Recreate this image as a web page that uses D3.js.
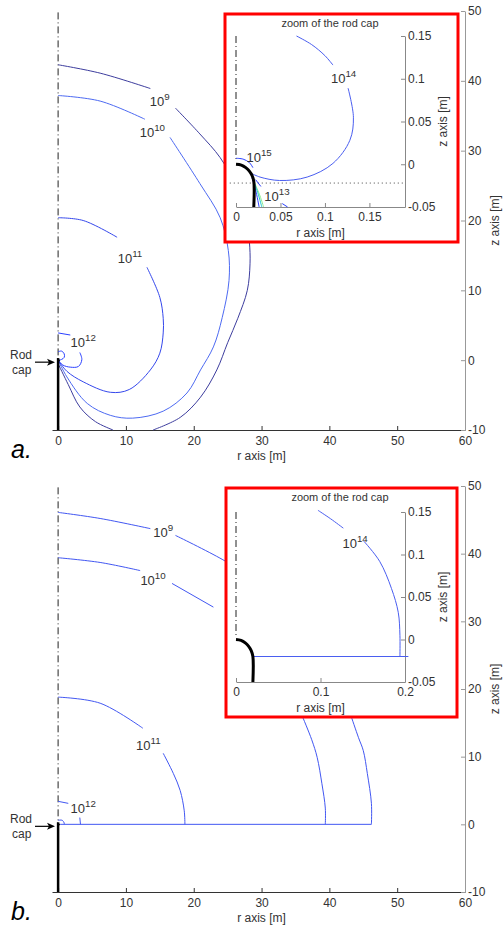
<!DOCTYPE html>
<html>
<head>
<meta charset="utf-8">
<script src="https://cdn.jsdelivr.net/npm/d3@7/dist/d3.min.js"></script>
<style>
body { margin: 0; background: #fff; }
svg text { font-family: "Liberation Sans", Arial, sans-serif; }
</style>
</head>
<body>
<svg id="chart" width="503" height="928"></svg>
<script>
// ticks
var rTicks = [0, 10, 20, 30, 40, 50, 60],
    zTicks = [-10, 0, 10, 20, 30, 40, 50],
    zoomRTicksA = [0, 0.05, 0.1, 0.15],
    zoomRTicksB = [0, 0.1, 0.2],
    zoomZTicks = [-0.05, 0, 0.05, 0.1, 0.15];

// panel a, iso-lines as [r, z] in metres (broken where the labels sit)
var a9 = [
    [[0, 42.3], [6.2, 41.1], [13.6, 38.9]],
    [[17.3, 36.1], [20.9, 32.4], [23.9, 29], [26.2, 25], [27.6, 21], [28.2, 17], [28.3, 13.8], [27.9, 10],
     [26.5, 6], [25, 2.5], [23.4, -1.4], [21, -5.3], [18, -8.2], [14, -10]],
    [[0, -0.5], [1.5, -3.5], [3.2, -6.7], [5.5, -8.8], [8.1, -10]]
];
var a10 = [
    [[0, 37.9], [6.2, 37.1], [12.8, 34.5]],
    [[16.5, 31.9], [20.9, 25.3], [23.9, 20.4], [25.1, 15.7], [25.2, 11.4], [24.2, 6.1], [22.9, 1.9], [21, -1.4],
     [19, -4.7], [15.5, -7.3], [11, -8.3], [7.7, -7.9], [4.3, -6.2], [1.3, -2.4], [0, 0]]
];
var a11 = [
    [[0, 20.4], [3.7, 20], [8.7, 17.6]],
    [[13.1, 13.3], [15, 9], [15.5, 6], [15.5, 3.9], [15, 1], [13.6, -1.4], [10.5, -4.2], [7.7, -4.6],
     [3.7, -3.1], [1.3, -1.6], [0, 0]]
];
var a12 = [
    [[0, 3.9], [1.8, 3.6]],
    [[3.2, 1.1], [3.5, 0.1], [3, -0.9], [1.8, -1], [0.7, -0.7], [0, 0]]
];
var a13 = [
    [[0, 1.2], [0.5, 1.3], [0.9, 0.9], [0.9, 0.4], [0.5, 0.1], [0, 0]]
];
var labelsA = [
    {exp: '9', r: 15, z: 37.1},
    {exp: '10', r: 13.9, z: 32.6},
    {exp: '11', r: 10.6, z: 14.6},
    {exp: '12', r: 3.7, z: 2.6}
];

// panel a, rod cap zoom
var za14 = [
    [[0.068, 0.15], [0.085, 0.14], [0.1, 0.127], [0.109, 0.116]],
    [[0.126, 0.089], [0.132, 0.055], [0.128, 0.028], [0.109, 0.001], [0.08, -0.015], [0.049, -0.019],
     [0.027, -0.015], [0.018, -0.011]]
];
var za15 = [
    [[0, 0.007], [0.008, 0.006], [0.015, 0.002], [0.019, -0.004]]
];
var za13 = [
    [[0.018, -0.016], [0.022, -0.03], [0.026, -0.05]],
    [[0.022, -0.018], [0.028, -0.026]],
    [[0.052, -0.046], [0.058, -0.05]]
];
var za13cyan = [
    [[0.02, -0.02], [0.025, -0.035], [0.029, -0.05]]
];
var za13green = [
    [[0.021, -0.022], [0.027, -0.037], [0.031, -0.05]]
];
var zoomLabelsA = [
    {exp: '14', r: 0.121, z: 0.1},
    {exp: '15', r: 0.026, z: 0.008},
    {exp: '13', r: 0.046, z: -0.038}
];
var capBaseA = [[-0.007, -0.022], [0.19, -0.022]];

// panel b, iso-lines
var b9 = [
    [[0, 46.1], [6.2, 45.2], [13.6, 43.7]],
    [[17.3, 42.7], [24.3, 39.1], [30, 35.5], [35, 30.5], [39, 25.5], [42, 20], [43.2, 16.2]],
    [[43.2, 16], [44.3, 12.8], [45, 10.9], [45.6, 7.5], [46.2, 3.1], [46.2, 0]]
];
var b10 = [
    [[0, 39.4], [6.2, 38.7], [12.1, 37.5]],
    [[16.8, 35.6], [22.9, 32.1]],
    [[36, 16], [37.4, 12.5], [38.2, 9.9], [38.9, 6], [39.4, 2.4], [39.4, 0]]
];
var b11 = [
    [[0, 18.8], [6.2, 17.9], [12.5, 14.2]],
    [[15.5, 10.5], [17, 7.5], [18, 5], [18.6, 2], [18.7, 0]]
];
var b12 = [
    [[0, 3.4], [1.5, 3.1]],
    [[3.2, 1], [3.3, 0]]
];
var b13 = [
    [[0, 0.6], [0.6, 0.6], [0.9, 0.2], [0.9, 0]]
];
var bBase = [
    [[0.3, 0], [46.2, 0]]
];
var labelsB = [
    {exp: '9', r: 15.5, z: 43.1},
    {exp: '10', r: 14, z: 36},
    {exp: '11', r: 13.3, z: 11.7},
    {exp: '12', r: 3.7, z: 2.4}
];

// panel b, rod cap zoom
var zb14 = [
    [[0.097, 0.152], [0.112, 0.142], [0.127, 0.131]],
    [[0.151, 0.116], [0.17, 0.092], [0.184, 0.06], [0.192, 0.032], [0.194, 0.005], [0.194, -0.02]],
    [[0.02, -0.02], [0.204, -0.02]]
];
var zoomLabelsB = [
    {exp: '14', r: 0.141, z: 0.113}
];

// shared geometry
var rodMain = [[0, 0.3], [0, -10]],
    symAxisMain = [[0, 49.8], [0, 0.5]],
    capZoom = [[0, 0], [0.006, -0.001], [0.011, -0.004], [0.015, -0.008], [0.018, -0.013], [0.02, -0.02], [0.02, -0.05]],
    symAxisZoom = [[0, 0.15], [0, 0.004]];

var colorA = {'9': '#3d3d9e', '10': '#4d6af2', '11': '#3447ec', '12': '#2a40ff', '13': '#2a40ff'},
    colorB = '#4257f2',
    zoomColor = {'14': '#4a5ef0', '15': '#2a40ff', '13': '#2a40ff', 'cyan': '#20c8d0', 'green': '#90ee90'};

var svg = d3.select('#chart');

function fmt(d) {
    return String(d);
}

function drawSegs(g, x, y, segs, color, width) {
    var line = d3.line()
        .x(function (d) { return x(d[0]); })
        .y(function (d) { return y(d[1]); })
        .curve(d3.curveCatmullRom.alpha(0.5));
    g.selectAll(null).data(segs).enter().append('path')
        .attr('d', line)
        .attr('fill', 'none')
        .attr('stroke', color)
        .attr('stroke-width', width || 1);
}

function expLabel(g, px, py, exp, size) {
    var t = g.append('text')
        .attr('x', px)
        .attr('y', py + size * 0.35)
        .attr('text-anchor', 'middle')
        .attr('font-size', size)
        .attr('fill', '#333');
    t.append('tspan').text('10');
    t.append('tspan').attr('dy', -size * 0.45).attr('font-size', size * 0.75).text(exp);
}

function styleAxis(ax, lineColor) {
    ax.select('.domain').attr('stroke', lineColor);
    ax.selectAll('.tick line').attr('stroke', lineColor);
    ax.selectAll('.tick text').attr('fill', '#333').attr('font-family', '"Liberation Sans", Arial, sans-serif');
}

function drawMain(p) {
    var g = svg.append('g'),
        x = p.x,
        y = p.y,
        ax,
        z0 = y(0);

    ax = g.append('g').attr('transform', 'translate(0,' + y.range()[0] + ')')
        .call(d3.axisBottom(x).tickValues(rTicks).tickFormat(fmt).tickSizeInner(-4).tickSizeOuter(0).tickPadding(6))
        .attr('font-size', 12);
    styleAxis(ax, '#333');

    ax = g.append('g').attr('transform', 'translate(' + x.range()[1] + ',0)')
        .call(d3.axisRight(y).tickValues(zTicks).tickFormat(fmt).tickSizeInner(-4).tickSizeOuter(0).tickPadding(3))
        .attr('font-size', 12);
    styleAxis(ax, '#999');

    g.append('text').attr('x', x(30)).attr('y', y.range()[0] + 30)
        .attr('text-anchor', 'middle').attr('font-size', 12).attr('fill', '#333').text('r axis [m]');
    g.append('text')
        .attr('transform', 'translate(499,' + ((y.range()[0] + y.range()[1]) / 2) + ') rotate(-90)')
        .attr('text-anchor', 'middle').attr('font-size', 12).attr('fill', '#333').text('z axis [m]');

    // symmetry axis and rod
    drawSegs(g, x, y, [symAxisMain], '#222', 1);
    g.select('path:last-child').attr('stroke-dasharray', '7,3,1,3');

    p.contours.forEach(function (c) {
        drawSegs(g, x, y, c.segs, c.color, 1);
    });

    drawSegs(g, x, y, [rodMain], '#000', 2.5);
    g.append('path')
        .attr('d', 'M' + (x(0) - 1) + ',' + (z0 - 2) + 'l3,2l-3,4z')
        .attr('fill', '#000');

    p.labels.forEach(function (l) {
        expLabel(g, x(l.r), y(l.z), l.exp, 13);
    });

    // rod cap marker
    g.append('text').attr('x', 10).attr('y', z0 - 1).attr('font-size', 12).attr('fill', '#333').text('Rod');
    g.append('text').attr('x', 12).attr('y', z0 + 14).attr('font-size', 12).attr('fill', '#333').text('cap');
    g.append('line').attr('x1', 35).attr('x2', 50).attr('y1', z0 + 2).attr('y2', z0 + 2)
        .attr('stroke', '#000').attr('stroke-width', 1.2);
    g.append('path').attr('d', 'M55,' + (z0 + 2) + 'l-8,-3.5l2,3.5l-2,3.5z').attr('fill', '#000');

    g.append('text').attr('x', 11).attr('y', p.letterY)
        .attr('font-family', '"Liberation Serif", "Times New Roman", serif')
        .attr('font-style', 'italic').attr('font-size', 25).attr('fill', '#000').text(p.letter);
}

function drawZoom(p) {
    var g = svg.append('g'),
        x = p.zx,
        y = p.zy,
        ax,
        box = p.box;

    g.append('rect').attr('x', box[0]).attr('y', box[1]).attr('width', box[2]).attr('height', box[3])
        .attr('fill', '#fff').attr('stroke', '#ff0000').attr('stroke-width', 3);

    g.append('text').attr('x', p.titleX).attr('y', box[1] + 13)
        .attr('text-anchor', 'middle').attr('font-size', 11).attr('fill', '#333').text('zoom of the rod cap');

    ax = g.append('g').attr('transform', 'translate(0,' + y.range()[0] + ')')
        .call(d3.axisBottom(x).tickValues(p.rTicks).tickFormat(fmt).tickSizeInner(-4).tickSizeOuter(0).tickPadding(5))
        .attr('font-size', 12);
    styleAxis(ax, '#888');

    ax = g.append('g').attr('transform', 'translate(' + x.range()[1] + ',0)')
        .call(d3.axisRight(y).tickValues(zoomZTicks).tickFormat(fmt).tickSizeInner(-4).tickSizeOuter(0).tickPadding(3))
        .attr('font-size', 12);
    styleAxis(ax, '#888');

    g.append('text').attr('x', (x.range()[0] + x.range()[1]) / 2).attr('y', y.range()[0] + 30)
        .attr('text-anchor', 'middle').attr('font-size', 12).attr('fill', '#333').text('r axis [m]');
    g.append('text')
        .attr('transform', 'translate(447,' + ((y.range()[0] + y.range()[1]) / 2) + ') rotate(-90)')
        .attr('text-anchor', 'middle').attr('font-size', 12).attr('fill', '#333').text('z axis [m]');

    drawSegs(g, x, y, [symAxisZoom], '#222', 1);
    g.select('path:last-child').attr('stroke-dasharray', '7,3,1,3');

    if (p.dotted) {
        drawSegs(g, x, y, [p.dotted], '#444', 1);
        g.select('path:last-child').attr('stroke-dasharray', '1,3');
    }

    p.contours.forEach(function (c) {
        drawSegs(g, x, y, c.segs, c.color, 1);
    });

    drawSegs(g, x, y, [capZoom], '#000', 3);

    p.labels.forEach(function (l) {
        expLabel(g, x(l.r), y(l.z), l.exp, 13);
    });
}

var panelA = {
    letter: 'a.',
    letterY: 458,
    x: d3.scaleLinear().domain([-0.9, 60]).range([52, 465]),
    y: d3.scaleLinear().domain([-10, 50]).range([430, 11]),
    contours: [
        {segs: a9, color: colorA['9']},
        {segs: a10, color: colorA['10']},
        {segs: a11, color: colorA['11']},
        {segs: a12, color: colorA['12']},
        {segs: a13, color: colorA['13']}
    ],
    labels: labelsA
};
var zoomA = {
    box: [225, 14, 233, 228],
    titleX: 330,
    zx: d3.scaleLinear().domain([0, 0.19]).range([236, 405]),
    zy: d3.scaleLinear().domain([-0.05, 0.15]).range([207, 36]),
    rTicks: zoomRTicksA,
    dotted: capBaseA,
    contours: [
        {segs: za13green, color: zoomColor.green},
        {segs: za13cyan, color: zoomColor.cyan},
        {segs: za13, color: zoomColor['13']},
        {segs: za14, color: zoomColor['14']},
        {segs: za15, color: zoomColor['15']}
    ],
    labels: zoomLabelsA
};
var panelB = {
    letter: 'b.',
    letterY: 920,
    x: d3.scaleLinear().domain([-0.9, 60]).range([52, 465]),
    y: d3.scaleLinear().domain([-10, 50]).range([892, 486]),
    contours: [
        {segs: b9, color: colorB},
        {segs: b10, color: colorB},
        {segs: b11, color: colorB},
        {segs: b12, color: colorB},
        {segs: b13, color: colorB},
        {segs: bBase, color: colorB}
    ],
    labels: labelsB
};
var zoomB = {
    box: [226, 488, 231, 229],
    titleX: 340,
    zx: d3.scaleLinear().domain([0, 0.2]).range([236, 405]),
    zy: d3.scaleLinear().domain([-0.05, 0.15]).range([682, 512]),
    rTicks: zoomRTicksB,
    dotted: null,
    contours: [
        {segs: zb14, color: zoomColor['14']}
    ],
    labels: zoomLabelsB
};

drawMain(panelA);
drawZoom(zoomA);
drawMain(panelB);
drawZoom(zoomB);
</script>
</body>
</html>
